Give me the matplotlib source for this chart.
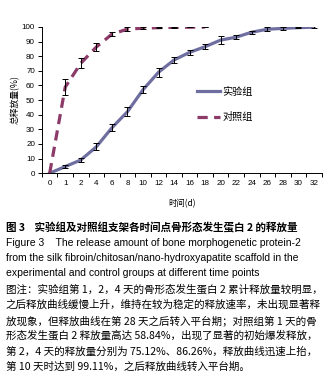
import numpy as np
import matplotlib
matplotlib.use('Agg')
import matplotlib.pyplot as plt

plt.rcParams['font.family'] = ['Noto Sans CJK SC', 'DejaVu Sans']

# days shown as categories (Excel-style axis)
days = ['0', '1', '2', '4', '6', '8', '10', '12', '14', '16', '18',
        '20', '22', '24', '26', '28', '30', '32']
exp_vals = [0, 4.5, 9, 18, 31, 42, 57, 69, 77.4, 82.6, 86.5,
            91, 93, 96.4, 98.4, 99, 99.5, 99.8]
exp_err = [0, 1, 1.5, 2.5, 2.5, 3, 2.5, 3, 2, 1.5, 1.5,
           2.5, 1.5, 1, 1.5, 0.8, 0.5, 0.5]
ctrl_vals = [0, 58.84, 75.12, 86.26, 95, 98.5, 99.11, 99.5, 99.7, 99.8, 99.9]
ctrl_err = [0, 5.5, 3.5, 3, 1.5, 1.5, 0.5, 0.3, 0.2, 0.2, 0.2]

caption = '图 3    实验组及对照组支架各时间点骨形态发生蛋白 2 的释放量'
eng_lines = ['Figure 3    The release amount of bone morphogenetic protein-2',
             'from the silk fibroin/chitosan/nano-hydroxyapatite scaffold in the',
             'experimental and control groups at different time points']
note_lines = ['图注：实验组第 1，2，4 天的骨形态发生蛋白 2 累计释放量较明显，',
              '之后释放曲线缓慢上升，维持在较为稳定的释放速率，未出现显著释',
              '放现象，但释放曲线在第 28 天之后转入平台期；对照组第 1 天的骨',
              '形态发生蛋白 2 释放量高达 58.84%，出现了显著的初始爆发释放，',
              '第 2，4 天的释放量分别为 75.12%、86.26%，释放曲线迅速上抬，',
              '第 10 天时达到 99.11%，之后释放曲线转入平台期。']

EXP_COLOR = '#6e6ea0'
CTRL_COLOR = '#8c3a68'

fig = plt.figure(figsize=(3.3, 3.9), dpi=100)
ax = fig.add_axes([0.127, 0.556, 0.848, 0.375])

x = np.arange(len(days))
xc = x[:len(ctrl_vals)]

ax.plot(x, exp_vals, color=EXP_COLOR, lw=2.3, label='实验组', zorder=2)
ax.plot(xc, ctrl_vals, color=CTRL_COLOR, lw=2.3, ls=(0, (3.2, 2.0)),
        label='对照组', zorder=2)
ax.errorbar(x[1:], exp_vals[1:], yerr=exp_err[1:], fmt='none', ecolor='black',
            elinewidth=0.7, capsize=2, capthick=0.7, zorder=3)
ax.errorbar(xc[1:], ctrl_vals[1:], yerr=ctrl_err[1:], fmt='none', ecolor='black',
            elinewidth=0.7, capsize=2, capthick=0.7, zorder=3)

ax.set_xlim(-0.5, len(days) - 0.5)
ax.set_ylim(0, 100)
ax.set_yticks(range(0, 101, 10))
ax.set_xticks(np.arange(-0.5, len(days), 1.0))
ax.set_xticklabels([])
ax.set_xticks(x, minor=True)
ax.set_xticklabels(days, minor=True)
ax.tick_params(axis='x', which='minor', length=0, pad=5, labelsize=5.8)
ax.tick_params(axis='x', which='major', length=3, width=0.7, direction='out')
ax.tick_params(axis='y', length=3, width=0.7, labelsize=5.8, pad=2)
for lab in ax.get_xticklabels(minor=True) + ax.get_yticklabels():
    lab.set_family(['Liberation Sans', 'DejaVu Sans'])
for s in ['top', 'right']:
    ax.spines[s].set_visible(False)
ax.spines['left'].set_linewidth(0.7)
ax.spines['bottom'].set_linewidth(0.7)

ax.set_ylabel('总释放量(%)', fontsize=6.3, labelpad=1)
ax.set_xlabel('时间(d)', fontsize=6, labelpad=9)

ax.legend(loc='upper left', bbox_to_anchor=(0.555, 0.59), frameon=False,
          borderaxespad=0, borderpad=0, fontsize=7.3, handlelength=2.2,
          labelspacing=1.5, handletextpad=0.3)

# caption block
fig.text(0.018, 1 - 228 / 390, caption, fontsize=7.6, fontweight='bold', va='center')
for i, line in enumerate(eng_lines):
    fig.text(0.018, 1 - (243 + 15 * i) / 390, line, fontsize=7.5, va='center',
             family=['Liberation Sans', 'DejaVu Sans'])
for i, line in enumerate(note_lines):
    fig.text(0.018, 1 - (289 + 15.6 * i) / 390, line, fontsize=7.6, va='center')

fig.savefig('out.png', dpi=100)
